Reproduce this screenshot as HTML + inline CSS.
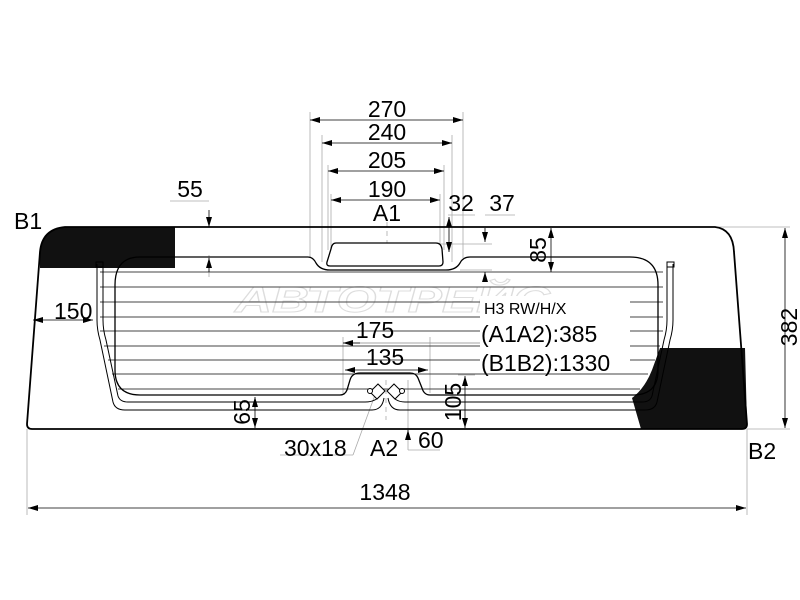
<!DOCTYPE html>
<html><head><meta charset="utf-8"><style>
html,body{margin:0;padding:0;background:#fff;}
svg{display:block;}
text{font-family:"Liberation Sans",sans-serif;fill:#000;}
</style></head><body>
<svg width="800" height="600" viewBox="0 0 800 600" xmlns="http://www.w3.org/2000/svg">
<defs>
<marker id="a" viewBox="0 0 10 6" refX="10" refY="3" markerWidth="10" markerHeight="6" orient="auto-start-reverse" markerUnits="userSpaceOnUse"><path d="M0,0 L10,3 L0,6 Z" fill="#000"/></marker>
</defs>
<g stroke="#aaa" stroke-width="0.8" fill="none">
<line x1="310" y1="112" x2="310" y2="258"/>
<line x1="463" y1="112" x2="463" y2="258"/>
<line x1="322" y1="135" x2="322" y2="262"/>
<line x1="452" y1="135" x2="452" y2="262"/>
<line x1="328" y1="165" x2="328" y2="250"/>
<line x1="444" y1="165" x2="444" y2="250"/>
<line x1="331" y1="194" x2="331" y2="250"/>
<line x1="440" y1="194" x2="440" y2="250"/>
<line x1="448" y1="215" x2="475" y2="215"/>
<line x1="485" y1="215" x2="515" y2="215"/>
<line x1="440" y1="244" x2="492" y2="244"/>
<line x1="460" y1="270" x2="492" y2="270"/>
<line x1="170" y1="201" x2="209" y2="201"/>
<line x1="209" y1="255" x2="209" y2="277"/>
<line x1="715" y1="227" x2="790" y2="227"/>
<line x1="747" y1="429" x2="790" y2="429"/>
<line x1="27" y1="429" x2="27" y2="515"/>
<line x1="747" y1="429" x2="747" y2="515"/>
<line x1="343" y1="337" x2="343" y2="393"/>
<line x1="430" y1="337" x2="430" y2="393"/>
<line x1="458" y1="375" x2="475" y2="375"/>
<line x1="408" y1="380" x2="408" y2="450"/>
<line x1="408" y1="450" x2="440" y2="450"/>
<line x1="280" y1="455" x2="353" y2="455"/>
<line x1="353" y1="455" x2="375" y2="395"/>
<line x1="386" y1="380" x2="386" y2="420" stroke-dasharray="5,4"/>
<line x1="387" y1="222" x2="387" y2="262" stroke-dasharray="5,4"/>
</g>
<text x="235" y="312" font-size="36" font-weight="bold" fill="none" stroke="#ddd" stroke-width="1" style="fill:none;font-style:italic" textLength="315" lengthAdjust="spacingAndGlyphs">АВТОТРЕЙС</text>
<path d="M40,268 L40,252 Q42,229 65,227 L175,227 L175,268 Z" fill="#111"/>
<path d="M660,348 L745,348 L747,424 Q747,429 742,429 L641,429 L632,398 Q645,388 652,370 Z" fill="#111"/>
<path d="M65,227 L715,227 Q733,229 734,252 L747,424 Q747,429 742,429 L32,429 Q27,429 27,424 L40,252 Q42,229 65,227 Z" fill="none" stroke="#000" stroke-width="1.8"/>
<g stroke="#444" stroke-width="0.9">
<line x1="100" y1="272" x2="663" y2="272"/>
<line x1="100" y1="287" x2="663" y2="287"/>
<line x1="100" y1="302" x2="663" y2="302"/>
<line x1="100" y1="317" x2="663" y2="317"/>
<line x1="100" y1="331" x2="663" y2="331"/>
<line x1="104" y1="346" x2="660" y2="346"/>
<line x1="108" y1="360" x2="655" y2="360"/>
<line x1="112" y1="374" x2="648" y2="374"/>
<line x1="118" y1="389" x2="640" y2="389"/>
</g>
<rect x="480" y="296" width="150" height="72" fill="#fff"/>
<path d="M140,257 L308,257 Q313,257 316,263 Q320,270 330,270 L446,270 Q456,270 460,263 Q463,257 470,257 L630,257 Q658,257 658,285 L658,370 Q658,395 633,395 L430,395 Q424,395 422,388 L418,378 Q416,373 410,373 L360,373 Q352,373 350,380 L347,390 Q345,395 340,395 L140,395 Q115,395 115,370 L115,285 Q115,257 140,257 Z" fill="none" stroke="#000" stroke-width="1.3"/>
<path d="M336,243 L436,243 Q441,243 442,249 L443,262 Q443,266 439,266 L330,266 Q326,266 327,262 L331,249 Q332,243 336,243 Z" fill="#fff" stroke="#000" stroke-width="1.3"/>
<g fill="none" stroke="#000" stroke-width="1">
<path d="M97,264 L97,320 Q97,330 100,340 L113,402 Q115,410 125,410 L372,410 Q382,410 384,398"/>
<path d="M103,264 L103,320 Q103,330 106,340 L118,396 Q120,402 128,402 L365,402 Q378,402 382,392"/>
<rect x="96" y="262" width="7" height="5"/>
<path d="M673,264 L673,320 Q673,330 670,340 L657,402 Q655,410 645,410 L400,410 Q390,410 388,398"/>
<path d="M667,264 L667,320 Q667,330 664,340 L652,396 Q650,402 642,402 L405,402 Q394,402 390,392"/>
<rect x="667" y="262" width="7" height="5"/>
<path d="M370,392 L378,384 L385,391 L377,399 Z" fill="#fff"/>
<path d="M402,392 L394,384 L387,391 L395,399 Z" fill="#fff"/>
<circle cx="370" cy="391" r="2.5" fill="#fff"/>
<circle cx="402" cy="391" r="2.5" fill="#fff"/>
</g>
<g stroke="#000" stroke-width="0.8" fill="none">
<line x1="310" y1="120" x2="463" y2="120" marker-start="url(#a)" marker-end="url(#a)"/>
<line x1="322" y1="143" x2="452" y2="143" marker-start="url(#a)" marker-end="url(#a)"/>
<line x1="328" y1="171" x2="444" y2="171" marker-start="url(#a)" marker-end="url(#a)"/>
<line x1="331" y1="200" x2="440" y2="200" marker-start="url(#a)" marker-end="url(#a)"/>
<line x1="449" y1="217" x2="449" y2="252" marker-start="url(#a)" marker-end="url(#a)"/>
<line x1="485" y1="228" x2="485" y2="242" marker-end="url(#a)"/>
<line x1="485" y1="282" x2="485" y2="272" marker-end="url(#a)"/>
<line x1="551" y1="228" x2="551" y2="272" marker-start="url(#a)" marker-end="url(#a)"/>
<line x1="209" y1="210" x2="209" y2="227" marker-end="url(#a)"/>
<line x1="209" y1="272" x2="209" y2="258" marker-end="url(#a)"/>
<line x1="33" y1="320" x2="93" y2="320" marker-start="url(#a)" marker-end="url(#a)"/>
<line x1="785" y1="228" x2="785" y2="428" marker-start="url(#a)" marker-end="url(#a)"/>
<line x1="28" y1="508" x2="746" y2="508" marker-start="url(#a)" marker-end="url(#a)"/>
<line x1="343" y1="343" x2="480" y2="343" stroke="#888"/>
<line x1="343" y1="343" x2="360" y2="343" marker-start="url(#a)"/>
<line x1="345" y1="370" x2="428" y2="370" marker-start="url(#a)" marker-end="url(#a)"/>
<line x1="465" y1="376" x2="465" y2="428" marker-start="url(#a)" marker-end="url(#a)"/>
<line x1="255" y1="397" x2="255" y2="428" marker-start="url(#a)" marker-end="url(#a)"/>
<line x1="408" y1="440" x2="408" y2="430" marker-end="url(#a)"/>
</g>
<g font-size="23">
<text x="387" y="117" text-anchor="middle">270</text>
<text x="387" y="140" text-anchor="middle">240</text>
<text x="387" y="168" text-anchor="middle">205</text>
<text x="387" y="197" text-anchor="middle">190</text>
<text x="387" y="221" text-anchor="middle">A1</text>
<text x="461" y="211" text-anchor="middle">32</text>
<text x="502" y="211" text-anchor="middle">37</text>
<text x="190" y="197" text-anchor="middle">55</text>
<text x="14" y="229">B1</text>
<text x="54" y="319">150</text>
<text x="375" y="338" text-anchor="middle">175</text>
<text x="385" y="365" text-anchor="middle">135</text>
<text x="481" y="342">(A1A2):385</text>
<text x="481" y="371">(B1B2):1330</text>
<text x="284" y="456">30x18</text>
<text x="370" y="456">A2</text>
<text x="418" y="448">60</text>
<text x="748" y="459">B2</text>
<text x="385" y="500" text-anchor="middle">1348</text>
<text transform="translate(546,250) rotate(-90)" text-anchor="middle">85</text>
<text transform="translate(797,327) rotate(-90)" text-anchor="middle">382</text>
<text transform="translate(461,402) rotate(-90)" text-anchor="middle">105</text>
<text transform="translate(250,412) rotate(-90)" text-anchor="middle">65</text>
</g>
<text x="484" y="314" font-size="16">H3 RW/H/X</text>
</svg>
</body></html>
